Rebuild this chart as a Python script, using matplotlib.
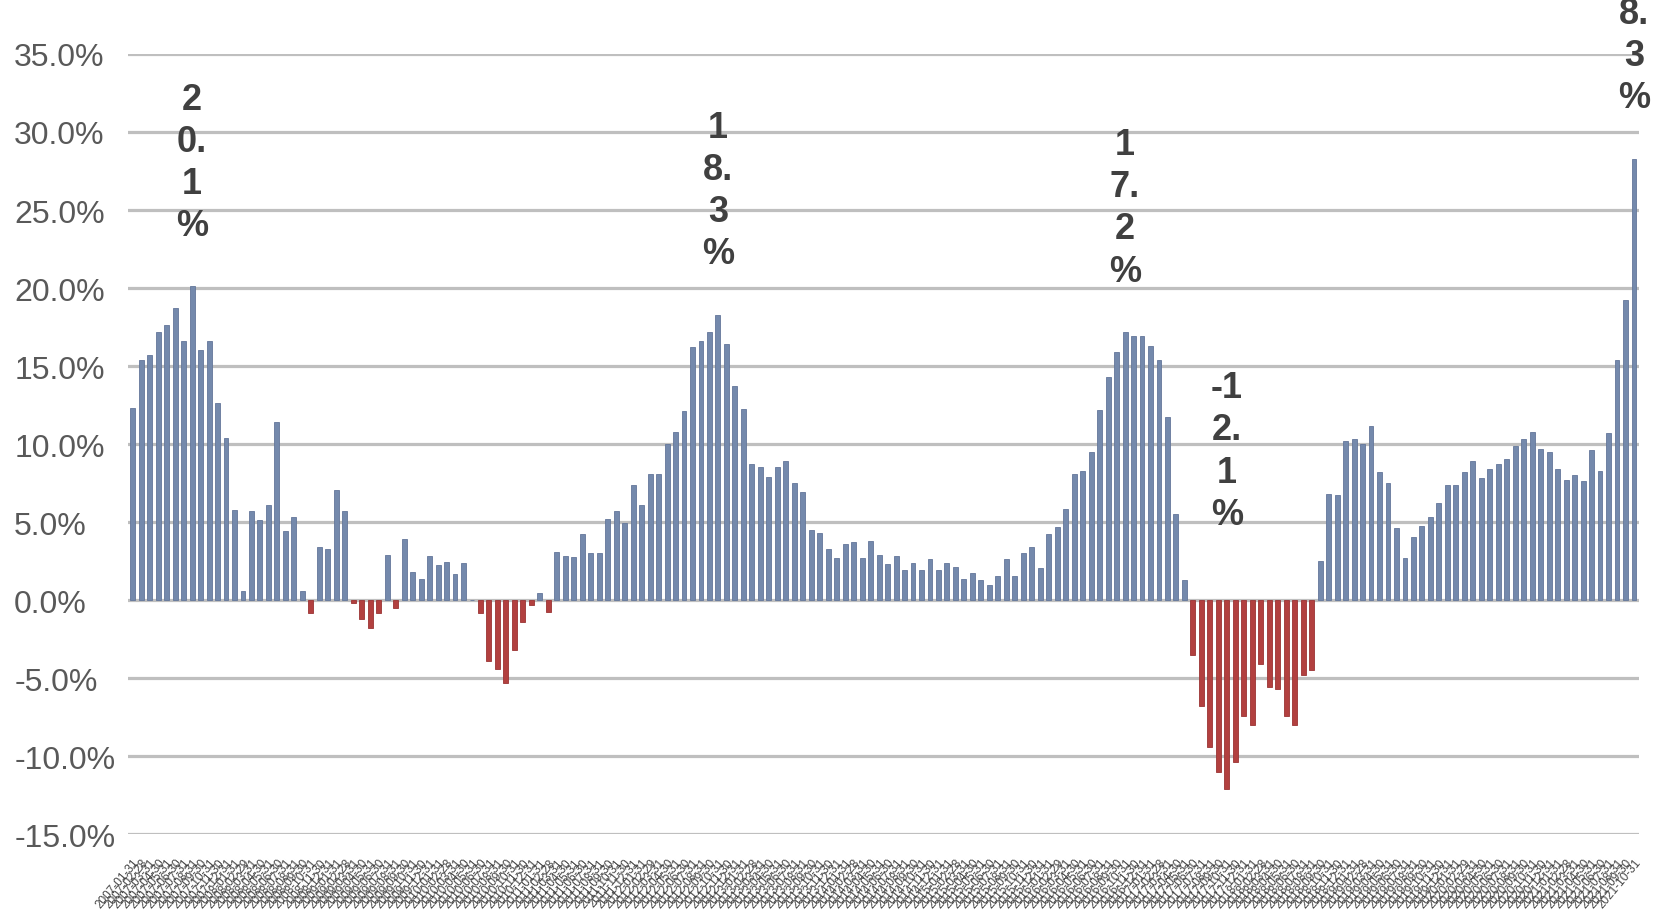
import numpy as np
import pandas as pd
import matplotlib
matplotlib.use('Agg')
import matplotlib.pyplot as plt

plt.rcParams['font.family'] = ['Liberation Sans', 'DejaVu Sans']

# =============================================================================
# Data (year-on-year growth, %)
# =============================================================================
growth = [
    12.3, 15.4, 15.7, 17.2, 17.6, 18.7, 16.6, 20.1, 16.0, 16.6,
    12.6, 10.4, 5.8, 0.6, 5.7, 5.1, 6.1, 11.4, 4.4, 5.3,
    0.6, -0.85, 3.4, 3.3, 7.05, 5.7, -0.2, -1.2, -1.8, -0.85,
    2.9, -0.5, 3.9,
    1.8, 1.35, 2.8, 2.25, 2.45, 1.65, 2.4, 0.0, -0.85, -3.9,
    -4.4, -5.3, -3.2, -1.4, -0.3, 0.45, -0.8, 3.1, 2.8, 2.75,
    4.2, 3.0, 3.0, 5.2, 5.7, 4.95, 7.4, 6.1, 8.1, 8.1,
    10.0, 10.8, 12.1, 16.2,
    16.6, 17.2, 18.3, 16.4, 13.7, 12.25, 8.7, 8.5, 7.9, 8.5,
    8.9, 7.5, 6.9, 4.5, 4.3, 3.3, 2.7, 3.6, 3.7, 2.7,
    3.8, 2.9, 2.3, 2.8, 1.9, 2.35, 1.9, 2.6, 1.9, 2.35,
    2.1, 1.35, 1.75, 1.3, 0.95,
    1.54, 2.6, 1.54, 3.0, 3.4, 2.06, 4.24, 4.66, 5.85, 8.07,
    8.26, 9.5, 12.2, 14.3, 15.9, 17.2, 16.9, 16.9, 16.3, 15.4,
    11.7, 5.5, 1.3, -3.5, -6.8, -9.4, -11.0, -12.1, -10.4, -7.45,
    -8.0, -4.1, -5.55, -5.7, -7.45, -8.0, -4.8, -4.5,
    2.5, 6.8, 6.7, 10.2, 10.3, 10.0, 11.15, 8.2, 7.5, 4.6,
    2.7, 4.05, 4.75, 5.3, 6.2, 7.4, 7.4, 8.2, 8.9, 7.8,
    8.4, 8.7, 9.05, 9.9, 10.3, 10.8, 9.7, 9.5, 8.4, 7.7,
    8.0, 7.6, 9.6, 8.3, 10.7, 15.4, 19.2, 28.3,
]

# month labels along the x axis
months = [d.strftime('%Y-%m-%d') for d in
          pd.date_range('2007-01-31', periods=len(growth), freq='ME')]

# bars that carry a value label
labelled = [7, 69, 117, 129, 177]

ytick_vals = [-15, -10, -5, 0, 5, 10, 15, 20, 25, 30, 35]


def wrap_label(val):
    """Excel-style narrow wrap: '20.1%' -> '2\\n0.\\n1\\n%'."""
    s = f'{val:.1f}%'
    lines = []
    for ch in s:
        if ch == '.' and lines:
            lines[-1] += ch
        elif lines and lines[-1] == '-':
            lines[-1] += ch
        else:
            lines.append(ch)
    return '\n'.join(lines)


# =============================================================================
# Plot
# =============================================================================
fig = plt.figure(figsize=(16.63, 9.12), dpi=100)
ax = fig.add_axes([0.077, 0.0844, 0.9086, 0.8553])

x = np.arange(len(growth))
vals = np.array(growth)
colors = np.where(vals >= 0, '#7489AC', '#B2403F')
edges = np.where(vals >= 0, '#63769A', '#9A3333')
ax.bar(x, vals, width=0.58, color=colors, edgecolor=edges, linewidth=0.6,
       zorder=3)

ax.set_ylim(-15, 35)
ax.set_xlim(-0.55, len(growth) - 0.4)
ax.set_yticks(ytick_vals)
ax.set_yticklabels([f'{v:.1f}%' for v in ytick_vals], fontsize=23,
                   color='#595959', ha='left')
ax.yaxis.grid(True, color='#BFBFBF', linewidth=2.3, zorder=0)
ax.set_axisbelow(True)
for sp in ax.spines.values():
    sp.set_visible(False)
# labels in the reference are left-aligned near the figure edge
ax.tick_params(axis='y', length=0, pad=82)

ax.set_xticks(x)
ax.set_xticklabels(months, rotation=50, ha='right', rotation_mode='anchor',
                   fontsize=8.5, color='#454545')
ax.tick_params(axis='x', length=0, pad=16)

for i in labelled:
    v = growth[i]
    base = v if v >= 0 else 0
    off = 31 if v >= 0 else 49
    ax.annotate(wrap_label(v), xy=(i, base), xytext=(0, off),
                textcoords='offset points', ha='center', va='bottom',
                fontsize=26, fontweight='bold', color='#404040',
                linespacing=1.27, annotation_clip=False, zorder=5)

fig.savefig('out.png', dpi=100)
